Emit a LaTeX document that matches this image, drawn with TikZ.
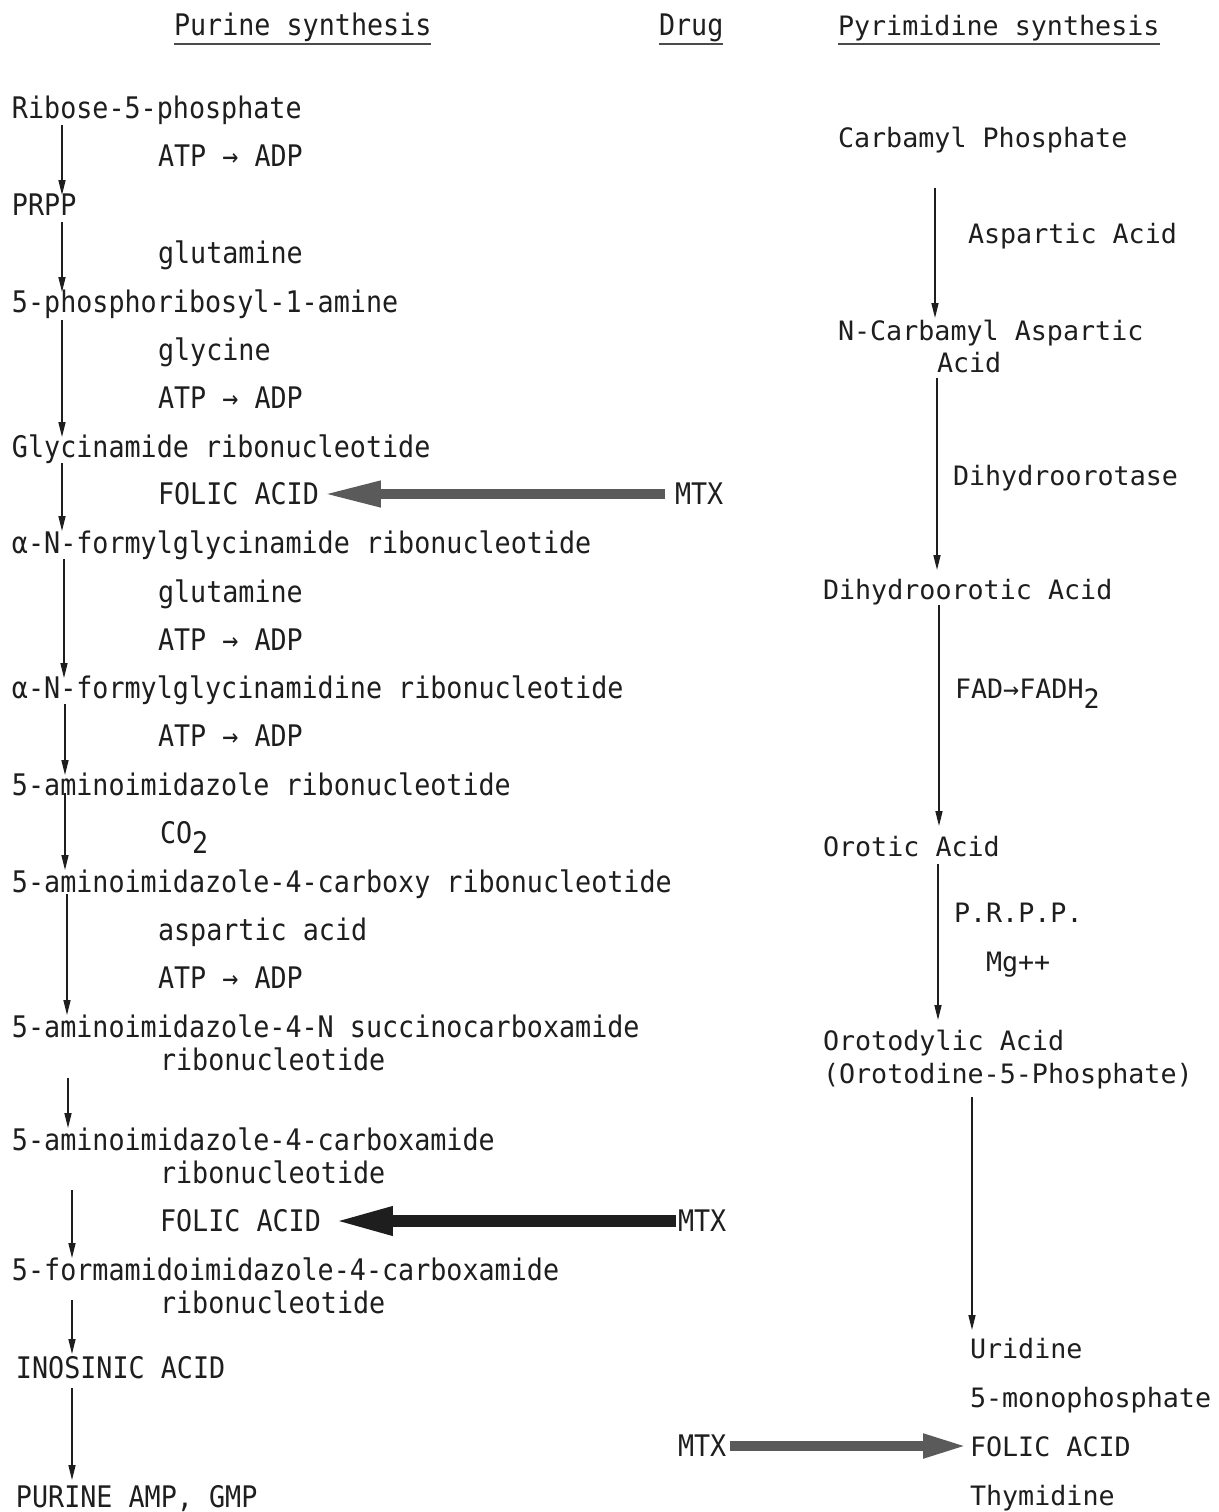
\documentclass[tikz,border=0pt]{standalone}
\usepackage{fontspec}
\newfontfamily\lf[FakeStretch=0.9]{DejaVu Sans Mono}
\newfontfamily\rf{DejaVu Sans Mono}
\usetikzlibrary{arrows.meta}
\definecolor{ink}{HTML}{1E1E1E}
\definecolor{fatgrey}{HTML}{5A5A5A}
\begin{document}
\begin{tikzpicture}[x=1pt,y=-1pt,
  L/.style={anchor=base west, inner sep=0pt, outer sep=0pt, text=ink, font=\lf\fontsize{29.7}{34}\selectfont},
  R/.style={anchor=base west, inner sep=0pt, outer sep=0pt, text=ink, font=\rf\fontsize{26.7}{32}\selectfont},
  arr/.style={draw=ink, line width=1.5pt, -{Triangle[length=15pt,width=7pt]}},
  ul/.style={draw=ink!80, line width=1.6pt},
  fat/.style={line width=10pt, -{Triangle[length=58pt,width=24pt]}}]
\fill[white] (0,0) rectangle (1218,1512);
\useasboundingbox (0,0) rectangle (1218,1512);

% headers
\node[L] (h1) at (174,36) {Purine synthesis};
\node[L] (h2) at (659,36) {Drug};
\node[R] (h3) at (838,36) {Pyrimidine synthesis};
\draw[ul] ([shift={(0,8)}]h1.base west) -- ([shift={(0,8)}]h1.base east);
\draw[ul] ([shift={(0,8)}]h2.base west) -- ([shift={(0,8)}]h2.base east);
\draw[ul] ([shift={(0,8)}]h3.base west) -- ([shift={(0,8)}]h3.base east);

% purine column
\node[L] (rib) at (12,118) {Ribose-5-phosphate};
\node[L] (atp1) at (158,166) {ATP → ADP};
\node[L] (prpp) at (12,215) {PRPP};
\node[L] (glu1) at (158,263) {glutamine};
\node[L] (pra) at (12,312) {5-phosphoribosyl-1-amine};
\node[L] (gly) at (158,360) {glycine};
\node[L] (atp2) at (158,408) {ATP → ADP};
\node[L] (gar) at (12,457) {Glycinamide ribonucleotide};
\node[L] (fa1) at (158,504) {FOLIC ACID};
\node[L] (mtx1) at (675,504) {MTX};
\node[L] (fgar) at (12,553) {α-N-formylglycinamide ribonucleotide};
\node[L] (glu2) at (158,602) {glutamine};
\node[L] (atp3) at (158,650) {ATP → ADP};
\node[L] (fgam) at (12,698) {α-N-formylglycinamidine ribonucleotide};
\node[L] (atp4) at (158,746) {ATP → ADP};
\node[L] (air) at (12,795) {5-aminoimidazole ribonucleotide};
\node[L] (co2) at (160,843) {CO\raisebox{-10pt}{2}};
\node[L] (cair) at (12,892) {5-aminoimidazole-4-carboxy ribonucleotide};
\node[L] (asp) at (158,940) {aspartic acid};
\node[L] (atp5) at (158,988) {ATP → ADP};
\node[L] (saicar) at (12,1037) {5-aminoimidazole-4-N succinocarboxamide};
\node[L] (saicar2) at (160,1070) {ribonucleotide};
\node[L] (aicar) at (12,1150) {5-aminoimidazole-4-carboxamide};
\node[L] (aicar2) at (160,1183) {ribonucleotide};
\node[L] (fa2) at (160,1231) {FOLIC ACID};
\node[L] (mtx2) at (678,1231) {MTX};
\node[L] (faicar) at (12,1280) {5-formamidoimidazole-4-carboxamide};
\node[L] (faicar2) at (160,1313) {ribonucleotide};
\node[L] (imp) at (16,1378) {INOSINIC ACID};
\node[L] (amp) at (16,1507) {PURINE AMP, GMP};

% pyrimidine column
\node[R] (carb) at (838,147) {Carbamyl Phosphate};
\node[R] (aspA) at (968,243) {Aspartic Acid};
\node[R] (ncarb) at (838,340) {N-Carbamyl Aspartic};
\node[R] (ncarb2) at (937,372) {Acid};
\node[R] (dhase) at (953,485) {Dihydroorotase};
\node[R] (dho) at (823,599) {Dihydroorotic Acid};
\node[R] (fad) at (955,698) {FAD→FADH\raisebox{-10pt}{2}};
\node[R] (oro) at (823,856) {Orotic Acid};
\node[R] (prpp2) at (954,922) {P.R.P.P.};
\node[R] (mg) at (986,971) {Mg++};
\node[R] (omp) at (823,1050) {Orotodylic Acid};
\node[R] (omp2) at (823,1083) {(Orotodine-5-Phosphate)};
\node[R] (uri) at (970,1358) {Uridine};
\node[R] (ump) at (970,1407) {5-monophosphate};
\node[R] (fa3) at (970,1456) {FOLIC ACID};
\node[R] (thy) at (970,1505) {Thymidine};
\node[L] (mtx3) at (678,1456) {MTX};

% purine arrows
\draw[arr] ([shift={(50,7)}]rib.base west) -- ([shift={(50,-20)}]prpp.base west);
\draw[arr] ([shift={(50,7)}]prpp.base west) -- ([shift={(50,-20)}]pra.base west);
\draw[arr] ([shift={(50,8)}]pra.base west) -- ([shift={(50,-20)}]gar.base west);
\draw[arr] ([shift={(50,6)}]gar.base west) -- ([shift={(50,-22)}]fgar.base west);
\draw[arr] ([shift={(52,6)}]fgar.base west) -- ([shift={(52,-20)}]fgam.base west);
\draw[arr] ([shift={(53,6)}]fgam.base west) -- ([shift={(53,-20)}]air.base west);
\draw[arr] ([shift={(53,-2)}]air.base west) -- ([shift={(53,-22)}]cair.base west);
\draw[arr] ([shift={(55,2)}]cair.base west) -- ([shift={(55,-22)}]saicar.base west);
\draw[arr] ([shift={(56,8)}]saicar.base west |- saicar2.base) -- ([shift={(56,-22)}]aicar.base west);
\draw[arr] ([shift={(60,7)}]aicar.base west |- aicar2.base) -- ([shift={(60,-22)}]faicar.base west);
\draw[arr] ([shift={(60,-13)}]faicar.base west |- faicar2.base) -- ([shift={(56,-24)}]imp.base west);
\draw[arr] ([shift={(56,10)}]imp.base west) -- ([shift={(56,-27)}]amp.base west);

% pyrimidine arrows
\draw[arr] ([shift={(97,41)}]carb.base west) -- ([shift={(97,-22)}]ncarb.base west);
\draw[arr] ([shift={(0,6)}]ncarb2.base west) -- ([shift={(114,-29)}]dho.base west);
\draw[arr] ([shift={(116,6)}]dho.base west) -- ([shift={(116,-30)}]oro.base west);
\draw[arr] ([shift={(115,8)}]oro.base west) -- ([shift={(115,-30)}]omp.base west);
\draw[arr] ([shift={(149,14)}]omp2.base west) -- ([shift={(2,-28)}]uri.base west);

% drug arrows
\draw[fat, draw=fatgrey, fill=fatgrey] ([shift={(-10,-10)}]mtx1.base west) -- ([shift={(4,-10)}]fa1.base east);
\draw[fat, draw=ink, fill=ink, line width=12pt, -{Triangle[length=60pt,width=26pt]}] ([shift={(-2,-10)}]mtx2.base west) -- ([shift={(12,-10)}]fa2.base east);
\draw[fat, draw=fatgrey, fill=fatgrey, -{Triangle[length=45pt,width=22pt]}] ([shift={(4,-10)}]mtx3.base east) -- ([shift={(-2,-10)}]fa3.base west);
\end{tikzpicture}
\end{document}
